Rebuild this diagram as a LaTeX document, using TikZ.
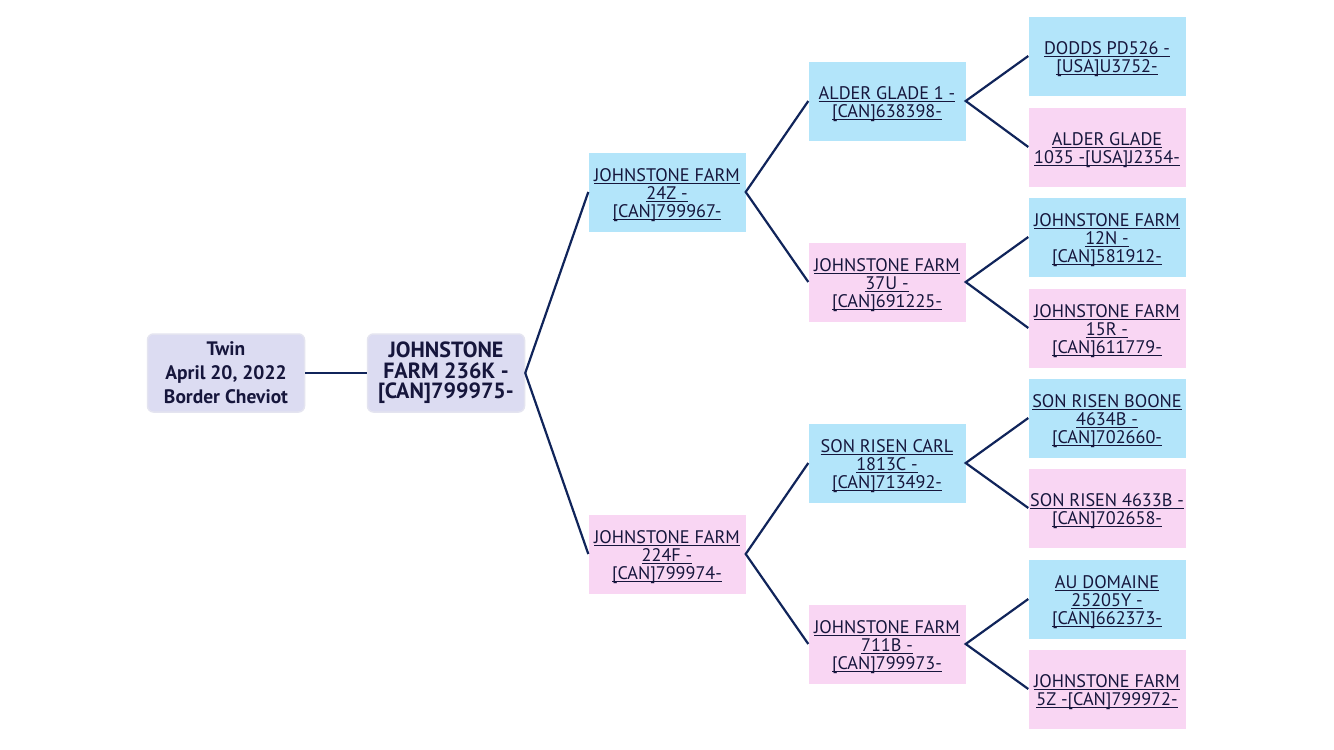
\documentclass[tikz,border=0pt]{standalone}
\usepackage{fontspec}
\setmainfont{PT Sans}
\definecolor{bluebox}{RGB}{179,229,250}
\definecolor{pinkbox}{RGB}{249,214,243}
\definecolor{lavbox}{RGB}{220,220,242}
\definecolor{lavedge}{RGB}{228,228,240}
\definecolor{txt}{RGB}{22,22,60}
\definecolor{wire}{RGB}{16,36,90}
\newcommand\ul[1]{\setbox0\hbox{#1}\rlap{\rule[-2.6pt]{\wd0}{0.9pt}}\box0}
\newcommand\fl[1]{\rule{0pt}{19pt}\ul{#1}}
\begin{document}
\begin{tikzpicture}[x=1pt,y=-1pt,
  every node/.style={inner sep=0pt, align=center, text=txt},
  gbox/.style={minimum width=157pt, minimum height=79pt, font=\fontsize{18.2}{17.8}\selectfont},
  sire/.style={gbox, fill=bluebox},
  dam/.style={gbox, fill=pinkbox},
  lav/.style={fill=lavbox, draw=lavedge, line width=1.5pt, rounded corners=6pt, minimum width=157pt, minimum height=78pt},
  wirestyle/.style={draw=wire, line width=2.2pt}]
\useasboundingbox (0,0) rectangle (1334,750);
\fill[white] (0,0) rectangle (1334,750);
\node[lav, font=\bfseries\fontsize{19.5}{24}\selectfont] (info) at (226,373) {Twin\\April 20, 2022\\Border Cheviot};
\node[lav, font=\bfseries\fontsize{22}{20.6}\selectfont] (root) at (446,373) {JOHNSTONE\\FARM 236K -\\{}[CAN]799975-};
\node[sire] (s) at (667,192) {\fl{JOHNSTONE FARM}\\\ul{24Z -}\\\ul{[CAN]799967-}};
\node[dam] (d) at (667,554) {\fl{JOHNSTONE FARM}\\\ul{224F -}\\\ul{[CAN]799974-}};
\node[sire] (ss) at (887,101) {\fl{ALDER GLADE 1 -}\\\ul{[CAN]638398-}};
\node[dam] (sd) at (887,282) {\fl{JOHNSTONE FARM}\\\ul{37U -}\\\ul{[CAN]691225-}};
\node[sire] (ds) at (887,463) {\fl{SON RISEN CARL}\\\ul{1813C -}\\\ul{[CAN]713492-}};
\node[dam] (dd) at (887,644) {\fl{JOHNSTONE FARM}\\\ul{711B -}\\\ul{[CAN]799973-}};
\node[sire] (sss) at (1107,56) {\fl{DODDS PD526 -}\\\ul{[USA]U3752-}};
\node[dam] (ssd) at (1107,147) {\fl{ALDER GLADE}\\\ul{1035 -[USA]J2354-}};
\node[sire] (sds) at (1107,237) {\fl{JOHNSTONE FARM}\\\ul{12N -}\\\ul{[CAN]581912-}};
\node[dam] (sdd) at (1107,328) {\fl{JOHNSTONE FARM}\\\ul{15R -}\\\ul{[CAN]611779-}};
\node[sire] (dss) at (1107,418) {\fl{SON RISEN BOONE}\\\ul{4634B -}\\\ul{[CAN]702660-}};
\node[dam] (dsd) at (1107,508) {\fl{SON RISEN 4633B -}\\\ul{[CAN]702658-}};
\node[sire] (dds) at (1107,599) {\fl{AU DOMAINE}\\\ul{25205Y -}\\\ul{[CAN]662373-}};
\node[dam] (ddd) at (1107,689) {\fl{JOHNSTONE FARM}\\\ul{5Z -[CAN]799972-}};
\path[wirestyle] (info.east) -- (root.west);
\path[wirestyle] (s.west) -- (root.east) -- (d.west);
\path[wirestyle] (ss.west) -- (s.east) -- (sd.west);
\path[wirestyle] (ds.west) -- (d.east) -- (dd.west);
\path[wirestyle] (sss.west) -- (ss.east) -- (ssd.west);
\path[wirestyle] (sds.west) -- (sd.east) -- (sdd.west);
\path[wirestyle] (dss.west) -- (ds.east) -- (dsd.west);
\path[wirestyle] (dds.west) -- (dd.east) -- (ddd.west);
\end{tikzpicture}
\end{document}
